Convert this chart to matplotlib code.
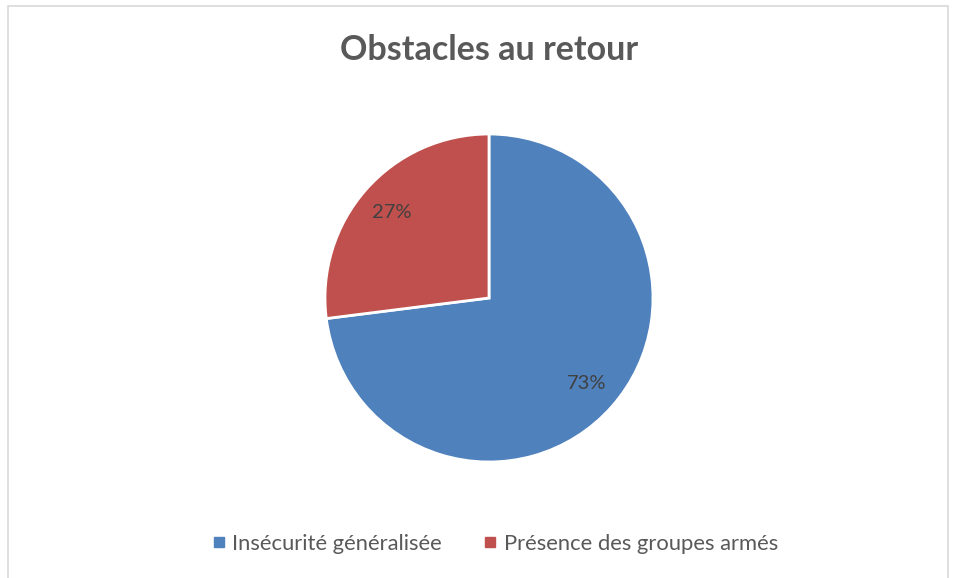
import matplotlib
matplotlib.use("Agg")
import matplotlib.pyplot as plt
from matplotlib.patches import Rectangle
from matplotlib.lines import Line2D

# data
categories = ["Insécurité généralisée", "Présence des groupes armés"]
values = [73, 27]
colors = ["#4F81BD", "#C0504D"]

plt.rcParams['font.family'] = ['Lato', 'DejaVu Sans']

W, H = 956, 578
fig = plt.figure(figsize=(W / 100, H / 100), dpi=100)

# chart border
fig.patches.append(Rectangle((8 / W, -0.01), 940 / W, (578 - 6) / H + 0.01,
                             transform=fig.transFigure, fill=False,
                             edgecolor="#D9D9D9", linewidth=1.2))

# pie axes sized in pixels
cx, cy, r = 489, 298, 164
ax = fig.add_axes([(cx - r) / W, (H - cy - r) / H, 2 * r / W, 2 * r / H])
wedges, texts = ax.pie(values, colors=colors, startangle=90, counterclock=False,
                       radius=1.0, wedgeprops=dict(edgecolor="white", linewidth=2, clip_on=False),
                       labels=[f"{v}%" for v in values], labeldistance=0.79,
                       textprops=dict(color="#404040", fontsize=14.5))
for t in texts:
    t.set_ha("center")
    t.set_va("center")
ax.set_xlim(-1, 1)
ax.set_ylim(-1, 1)
ax.set_aspect("equal")
ax.axis("off")

fig.text(489 / W, 1 - 50 / H, "Obstacles au retour", ha="center", va="center",
         fontsize=24.5, fontweight="bold", color="#595959")

handles = [Line2D([0], [0], marker="s", linestyle="none", markersize=7,
                  markerfacecolor=c, markeredgecolor=c) for c in colors]
fig.legend(handles, categories, loc="center", bbox_to_anchor=(493 / W, 1 - 544 / H),
           ncol=2, frameon=False, fontsize=15.8, labelcolor="#595959",
           handletextpad=0.1, columnspacing=1.7, handlelength=1.0)

fig.savefig("out.png", dpi=100)
